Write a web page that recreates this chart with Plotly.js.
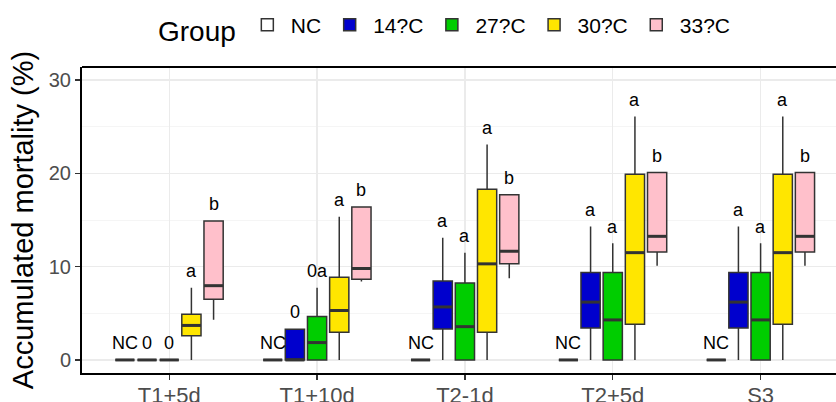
<!DOCTYPE html>
<html>
<head>
<meta charset="utf-8">
<script src="https://cdn.plot.ly/plotly-3.0.1.min.js"></script>
<style>html,body{margin:0;padding:0;background:#fff;}#chart{width:836px;height:402px;}</style>
</head>
<body>
<div id="chart"></div>
<script>
const categories = ["T1+5d", "T1+10d", "T2-1d", "T2+5d", "S3"];
const groups = ["NC", "14?C", "27?C", "30?C", "33?C"];
const fills = ["#FFFFFF", "#0000CD", "#00CD00", "#FFE600", "#FFC0CB"];

// NC
const nc_lower  = [0, 0, 0, 0, 0];
const nc_q1     = [0, 0, 0, 0, 0];
const nc_median = [0, 0, 0, 0, 0];
const nc_q3     = [0, 0, 0, 0, 0];
const nc_upper  = [0, 0, 0, 0, 0];
const nc_labels = ["NC", "NC", "NC", "NC", "NC"];
// 14?C
const c14_lower  = [0, 0, 0, 0, 0];
const c14_q1     = [0, 0, 3.32, 3.43, 3.43];
const c14_median = [0, 0, 5.68, 6.2, 6.2];
const c14_q3     = [0, 3.3, 8.47, 9.36, 9.36];
const c14_upper  = [0, 3.3, 13.1, 14.3, 14.3];
const c14_labels = ["0", "0", "a", "a", "a"];
// 27?C
const c27_lower  = [0, 0, 0, 0, 0];
const c27_q1     = [0, 0, 0, 0, 0];
const c27_median = [0, 1.86, 3.57, 4.29, 4.29];
const c27_q3     = [0, 4.65, 8.25, 9.36, 9.36];
const c27_upper  = [0, 7.75, 11.5, 12.5, 12.5];
const c27_labels = ["0", "0a", "a", "a", "a"];
// 30?C
const c30_lower  = [0, 0, 0, 0, 0];
const c30_q1     = [2.6, 2.96, 2.96, 3.82, 3.82];
const c30_median = [3.7, 5.3, 10.3, 11.5, 11.5];
const c30_q3     = [4.9, 8.86, 18.3, 19.9, 19.9];
const c30_upper  = [7.75, 15.36, 23.1, 26.1, 26.1];
const c30_labels = ["a", "a", "a", "a", "a"];
// 33?C
const c33_lower  = [4.3, 8.4, 8.75, 10.1, 10.1];
const c33_q1     = [6.5, 8.65, 10.3, 11.57, 11.57];
const c33_median = [7.96, 9.8, 11.65, 13.25, 13.25];
const c33_q3     = [14.9, 16.4, 17.7, 20.1, 20.1];
const c33_upper  = [14.9, 16.4, 17.7, 20.1, 20.1];
const c33_labels = ["b", "b", "b", "b", "b"];

const series = [
  {lower: nc_lower, q1: nc_q1, median: nc_median, q3: nc_q3, upper: nc_upper, labels: nc_labels},
  {lower: c14_lower, q1: c14_q1, median: c14_median, q3: c14_q3, upper: c14_upper, labels: c14_labels},
  {lower: c27_lower, q1: c27_q1, median: c27_median, q3: c27_q3, upper: c27_upper, labels: c27_labels},
  {lower: c30_lower, q1: c30_q1, median: c30_median, q3: c30_q3, upper: c30_upper, labels: c30_labels},
  {lower: c33_lower, q1: c33_q1, median: c33_median, q3: c33_q3, upper: c33_upper, labels: c33_labels}
];

const dodge = 0.15, boxW = 0.13, labelOffset = 1.8;
const FONT = "Liberation Sans, Arial, sans-serif";
const traces = [];
const annotations = [];
series.forEach((s, j) => {
  const xs = categories.map((c, i) => i + (j - 2) * dodge);
  traces.push({
    type: "box", name: groups[j], x: xs,
    q1: s.q1, median: s.median, q3: s.q3, lowerfence: s.lower, upperfence: s.upper,
    width: boxW, whiskerwidth: 0, boxpoints: false,
    fillcolor: fills[j], line: {color: "#333333", width: 1.5},
    hoverinfo: "skip"
  });
  traces.push({
    type: "scatter", mode: "markers", x: xs, y: s.median, showlegend: false,
    marker: {symbol: "line-ew", size: 13.6, color: "#333333", line: {color: "#333333", width: 3}},
    hoverinfo: "skip"
  });
  xs.forEach((x, i) => {
    annotations.push({
      x: x, y: s.upper[i] + labelOffset, xref: "x", yref: "y",
      text: s.labels[i], showarrow: false, xanchor: "center", yanchor: "middle",
      font: {family: FONT, size: 18, color: "#000000"}
    });
  });
});

const layout = {
  width: 836, height: 402,
  margin: {l: 82, r: 0, t: 67, b: 29, pad: 0},
  paper_bgcolor: "#FFFFFF", plot_bgcolor: "#FFFFFF",
  font: {family: FONT, color: "#000000"},
  boxmode: "overlay",
  showlegend: true,
  legend: {
    orientation: "h", xref: "container", yref: "container",
    x: 156 / 836, xanchor: "left", y: 1 - 28 / 402, yanchor: "middle",
    title: {text: "Group", side: "left", font: {family: FONT, size: 28, color: "#000000"}},
    font: {family: FONT, size: 21, color: "#000000"},
    itemwidth: 37,
    traceorder: "normal", itemclick: false
  },
  xaxis: {
    range: [-0.59, 4.51], tickvals: categories.map((c, i) => i), ticktext: categories,
    showgrid: true, gridcolor: "#EBEBEB", gridwidth: 1.2, zeroline: false,
    showline: true, linecolor: "#000000", linewidth: 2,
    ticks: "outside", ticklen: 5, tickwidth: 1.2, tickcolor: "#333333",
    ticklabelstandoff: -3,
    tickfont: {family: FONT, size: 22, color: "#4D4D4D"}
  },
  yaxis: {
    range: [-1.4, 31.4], tickvals: [0, 10, 20, 30],
    showgrid: true, gridcolor: "#EBEBEB", gridwidth: 1.2, zeroline: false,
    minor: {tickvals: [5, 15, 25], showgrid: true, gridcolor: "#F2F2F2", gridwidth: 0.8},
    showline: true, linecolor: "#000000", linewidth: 2,
    ticks: "outside", ticklen: 5, tickwidth: 1.2, tickcolor: "#333333",
    tickfont: {family: FONT, size: 20, color: "#4D4D4D"},
    title: {text: "Accumulated mortality (%)", font: {family: FONT, size: 29, color: "#000000"}, standoff: 7}
  },
  shapes: [{type: "line", xref: "paper", yref: "paper", x0: 0, x1: 1.05, y0: 1, y1: 1,
            line: {color: "#000000", width: 2}}],
  annotations: annotations
};

Plotly.newPlot("chart", traces, layout, {displayModeBar: false, staticPlot: true});
</script>
</body>
</html>
